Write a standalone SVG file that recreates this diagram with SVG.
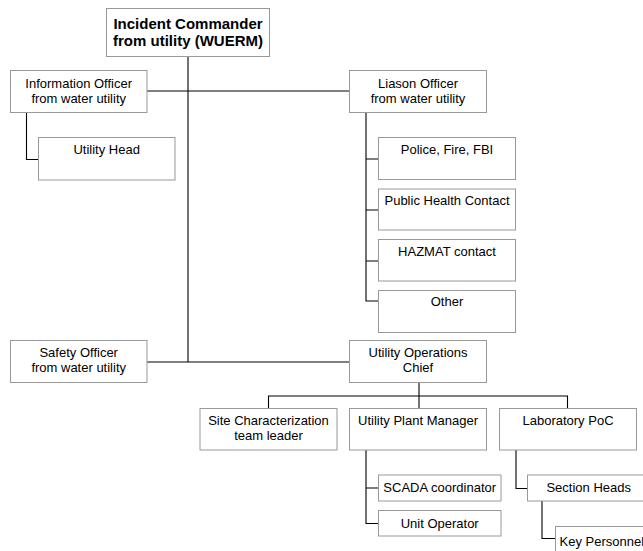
<svg xmlns="http://www.w3.org/2000/svg" width="643" height="551" viewBox="0 0 643 551">
<style>
.box{fill:#fff;stroke:#999;stroke-width:1}
.t{font-family:"Liberation Sans",Arial,sans-serif;font-size:13px;fill:#000;text-anchor:middle}
.tb{font-family:"Liberation Sans",Arial,sans-serif;font-size:15px;font-weight:bold;fill:#000;text-anchor:middle}
.c{fill:none;stroke:#000;stroke-width:1.1}
</style>
<rect width="643" height="551" fill="#fff"/>
<g id="connectors">
<path class="c" d="M188,57 V362 M147,91 H349.5 M147,362 H349.5"/>
<path class="c" d="M26.5,112.5 V159.5 H38.5"/>
<path class="c" d="M366,112.5 V301 H378.5 M366,159 H378.5 M366,210 H378.5 M366,261 H378.5"/>
<path class="c" d="M419,382.5 V396 M268.5,408.5 V396 H567.5 V408.5 M419,396 V408.5"/>
<path class="c" d="M366,450 V523.5 H378.5 M366,488 H378.5"/>
<path class="c" d="M516,450 V488.5 H527.5"/>
<path class="c" d="M542,501 V538.5 H555.5"/>
</g>
<g id="incident-commander"><rect class="box" x="106.5" y="8.5" width="163" height="48"/><text class="tb" x="188" y="29">Incident Commander</text><text class="tb" x="188" y="46">from utility (WUERM)</text></g>
<g id="information-officer"><rect class="box" x="10.5" y="70.5" width="136.5" height="42"/><text class="t" x="78.7" y="87.5">Information Officer</text><text class="t" x="78.7" y="102.5">from water utility</text></g>
<g id="utility-head"><rect class="box" x="38.5" y="137.5" width="136.5" height="42.5"/><text class="t" x="106.7" y="154">Utility Head</text></g>
<g id="liaison-officer"><rect class="box" x="349.5" y="70.5" width="137" height="42"/><text class="t" x="418" y="87.5">Liason Officer</text><text class="t" x="418" y="102.5">from water utility</text></g>
<g id="police"><rect class="box" x="378.5" y="137.5" width="137" height="42"/><text class="t" x="447" y="154">Police, Fire, FBI</text></g>
<g id="public-health"><rect class="box" x="378.5" y="189" width="137" height="41"/><text class="t" x="447" y="205">Public Health Contact</text></g>
<g id="hazmat"><rect class="box" x="378.5" y="239.5" width="137" height="41.5"/><text class="t" x="447" y="256">HAZMAT contact</text></g>
<g id="other"><rect class="box" x="378.5" y="290.5" width="137" height="42"/><text class="t" x="447" y="306">Other</text></g>
<g id="safety-officer"><rect class="box" x="10.5" y="340.5" width="136.5" height="42"/><text class="t" x="78.7" y="356.5">Safety Officer</text><text class="t" x="78.7" y="371.5">from water utility</text></g>
<g id="operations-chief"><rect class="box" x="349.5" y="340.5" width="137" height="42"/><text class="t" x="418" y="356.5">Utility Operations</text><text class="t" x="418" y="371.5">Chief</text></g>
<g id="site-characterization"><rect class="box" x="200" y="408.5" width="137" height="41.5"/><text class="t" x="268.5" y="425">Site Characterization</text><text class="t" x="268.5" y="440">team leader</text></g>
<g id="plant-manager"><rect class="box" x="349.5" y="408.5" width="137" height="41.5"/><text class="t" x="418" y="425">Utility Plant Manager</text></g>
<g id="laboratory-poc"><rect class="box" x="499.5" y="408.5" width="137" height="41.5"/><text class="t" x="568" y="425">Laboratory PoC</text></g>
<g id="scada"><rect class="box" x="378.5" y="475" width="122.5" height="26"/><text class="t" x="439.7" y="492">SCADA coordinator</text></g>
<g id="unit-operator"><rect class="box" x="378.5" y="510.5" width="122.5" height="25.5"/><text class="t" x="439.7" y="527.5">Unit Operator</text></g>
<g id="section-heads"><rect class="box" x="527.5" y="475" width="122.5" height="26"/><text class="t" x="588.7" y="492">Section Heads</text></g>
<g id="key-personnel"><rect class="box" x="555.5" y="526.5" width="123" height="30"/><text class="t" x="559.5" y="546" style="text-anchor:start">Key Personnel</text></g>
</svg>
